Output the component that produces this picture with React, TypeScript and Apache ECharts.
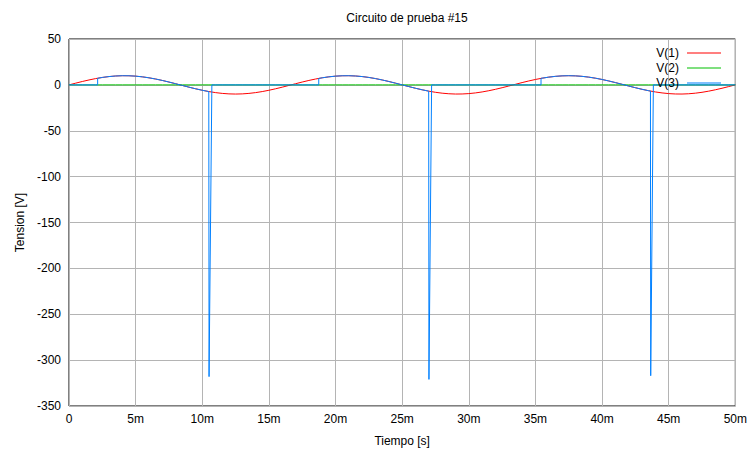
import React, { useEffect, useRef } from "react";
import * as echarts from "echarts";

// Time axis in milliseconds (0.5 ms steps)
const timeMs: number[] = Array.from({ length: 101 }, (_, i) => i * 0.5);

// V(1): source voltage (volts), one value per timeMs entry
const v1: number[] = [
  0, 1.87, 3.68, 5.36, 6.85, 8.09, 9.05, 9.69, 9.98, 9.92,
  9.51, 8.76, 7.71, 6.37, 4.82, 3.09, 1.25, -0.63, -2.49, -4.26,
  -5.88, -7.29, -8.44, -9.29, -9.82, -10.0, -9.82, -9.29, -8.44, -7.29,
  -5.88, -4.26, -2.49, -0.63, 1.25, 3.09, 4.82, 6.37, 7.71, 8.76,
  9.51, 9.92, 9.98, 9.69, 9.05, 8.09, 6.85, 5.36, 3.68, 1.87,
  0, -1.87, -3.68, -5.36, -6.85, -8.09, -9.05, -9.69, -9.98, -9.92,
  -9.51, -8.76, -7.71, -6.37, -4.82, -3.09, -1.25, 0.63, 2.49, 4.26,
  5.88, 7.29, 8.44, 9.29, 9.82, 10.0, 9.82, 9.29, 8.44, 7.29,
  5.88, 4.26, 2.49, 0.63, -1.25, -3.09, -4.82, -6.37, -7.71, -8.76,
  -9.51, -9.92, -9.98, -9.69, -9.05, -8.09, -6.85, -5.36, -3.68, -1.87,
  0,
];

// V(2): flat at zero
const v2: number[] = timeMs.map(() => 0);

// V(3): conduction windows and spikes
const v3FireTime: number[] = [2.15, 18.74, 35.42];
const v3FireLevel: number[] = [7.2, 7.0, 7.2];
const v3SpikeTime: number[] = [10.49, 26.99, 43.63];
const v3PreSpike: number[] = [-7.3, -6.8, -6.7];
const v3SpikeMin: number[] = [-318, -321, -317];
const v3ReturnTime: number[] = [10.72, 27.21, 43.85];

const xTicks = ["0", "5m", "10m", "15m", "20m", "25m", "30m", "35m", "40m", "45m", "50m"];

function buildV3(): number[][] {
  const pts: number[][] = [[0, 0]];
  for (let k = 0; k < v3FireTime.length; k++) {
    pts.push([v3FireTime[k], 0]);
    pts.push([v3FireTime[k], v3FireLevel[k]]);
    for (let i = 0; i < timeMs.length; i++) {
      if (timeMs[i] > v3FireTime[k] && timeMs[i] < v3SpikeTime[k]) {
        pts.push([timeMs[i], v1[i]]);
      }
    }
    pts.push([v3SpikeTime[k], v3PreSpike[k]]);
    pts.push([v3SpikeTime[k] + 0.02, v3SpikeMin[k]]);
    pts.push([v3ReturnTime[k], 0]);
  }
  pts.push([50, 0]);
  return pts;
}

const FONT = "'Liberation Sans', Arial, sans-serif";

export default function App() {
  const ref = useRef<HTMLDivElement>(null);
  useEffect(() => {
    if (!ref.current) return;
    const chart = echarts.init(ref.current, undefined, { renderer: "svg" });
    const line = (name: string, data: number[][], color: string) => ({
      name,
      type: "line",
      data,
      showSymbol: false,
      symbol: "none",
      lineStyle: { color, width: 1 },
      itemStyle: { color },
      emphasis: { disabled: true },
    });
    chart.setOption({
      animation: false,
      textStyle: { fontFamily: FONT },
      title: {
        text: "Circuito de prueba #15",
        left: 402,
        textAlign: "center",
        top: 7,
        textStyle: { fontSize: 12, fontWeight: "normal", color: "#000", fontFamily: FONT },
      },
      legend: {
        data: ["V(1)", "V(2)", "V(3)"],
        orient: "vertical",
        align: "right",
        right: 29,
        top: 46,
        padding: 0,
        itemGap: 1,
        itemWidth: 34,
        itemHeight: 1.2,
        icon: "rect",
        textStyle: { fontSize: 12, color: "#000", fontFamily: FONT, lineHeight: 14, padding: [0, 3, 0, 0] },
      },
      grid: {
        left: 69,
        right: 14,
        top: 39,
        bottom: 46,
        show: true,
        borderColor: "#000",
        borderWidth: 1,
        backgroundColor: "transparent",
      },
      xAxis: {
        type: "value",
        min: 0,
        max: 50,
        interval: 5,
        name: "Tiempo [s]",
        nameLocation: "middle",
        nameGap: 29,
        nameTextStyle: { fontSize: 12, color: "#000", fontFamily: FONT },
        axisLine: { show: false },
        axisTick: { show: false },
        axisLabel: {
          fontSize: 12,
          color: "#000",
          margin: 7,
          fontFamily: FONT,
          formatter: (v: number) => xTicks[Math.round(v / 5)] ?? String(v),
        },
        splitLine: { show: true, lineStyle: { color: "#b4b4b4", width: 1 } },
      },
      yAxis: {
        type: "value",
        min: -350,
        max: 50,
        interval: 50,
        name: "Tension [V]",
        nameLocation: "middle",
        nameGap: 43,
        nameTextStyle: { fontSize: 12, color: "#000", fontFamily: FONT },
        axisLine: { show: false },
        axisTick: { show: false },
        axisLabel: { fontSize: 12, color: "#000", margin: 8, fontFamily: FONT },
        splitLine: { show: true, lineStyle: { color: "#b4b4b4", width: 1 } },
      },
      series: [
        line("V(1)", timeMs.map((t, i) => [t, v1[i]]), "#ff0000"),
        line("V(2)", timeMs.map((t, i) => [t, v2[i]]), "#00c000"),
        line("V(3)", buildV3(), "#0080ff"),
      ],
    });
    return () => chart.dispose();
  }, []);
  return (
    <div
      ref={ref}
      style={{ position: "fixed", left: 0, top: 0, width: 750, height: 452, background: "#fff" }}
    />
  );
}
